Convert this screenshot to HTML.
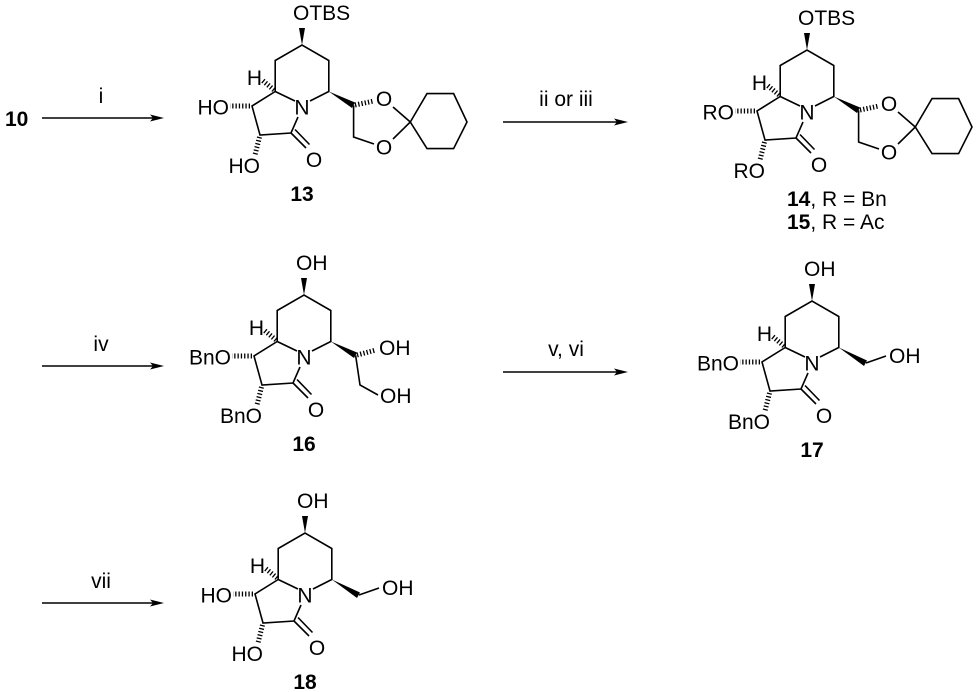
<!DOCTYPE html>
<html><head><meta charset="utf-8"><style>
html,body{margin:0;padding:0;background:#fff;}
svg{display:block;font-family:"Liberation Sans",Arial,sans-serif;}
</style></head><body>
<svg width="978" height="692" viewBox="0 0 978 692" xmlns="http://www.w3.org/2000/svg">
<defs>
<g id="core" stroke="#000" stroke-width="1.6" fill="none">
  <line x1="-7" y1="-6" x2="-26.8" y2="-15.5"/>
  <polyline points="-26.8,-15.5 -26.8,-46.5 0,-62 26.8,-46.5 26.8,-15.5 8,-6"/>
  <polyline points="-26.8,-15.5 -50,-1 -42,28 -11,26 -4,10"/>
  <line x1="-11" y1="26" x2="4" y2="41"/>
  <line x1="-7" y1="22.5" x2="7.5" y2="37.5"/>
  <polygon points="0,-62 -3,-79 3,-79" fill="#000" stroke="none"/>
  <line x1="-28" y1="-17" x2="-40" y2="-27" stroke-width="5" stroke-dasharray="1.3 2"/>
  <line x1="-52" y1="-1" x2="-72" y2="-1" stroke-width="5" stroke-dasharray="1.3 2"/>
  <line x1="-42.5" y1="30" x2="-47" y2="48" stroke-width="5" stroke-dasharray="1.3 2"/>
</g>
<g id="coreText" font-size="21" fill="#000">
  <text x="0" y="7.5" text-anchor="middle">N</text>
  <text x="12" y="60" text-anchor="middle">O</text>
  <text x="-40" y="-22" text-anchor="end">H</text>
</g>
<g id="dioxolane" stroke="#000" stroke-width="1.6" fill="none">
  <polygon points="26.8,-15.5 50,1 53,-4.5" fill="#000" stroke="none"/>
  <line x1="53" y1="-2" x2="72" y2="-6" stroke-width="5" stroke-dasharray="1.3 2"/>
  <polyline points="51.6,-1.7 51.6,30 72,37"/>
  <line x1="91" y1="0" x2="108.3" y2="15"/>
  <line x1="91" y1="32" x2="108.3" y2="15"/>
  <polygon points="108.3,15 125,-13.4 151.6,-13.4 165,15 151.6,41.6 125,41.6"/>
</g>
<g id="dioxText" font-size="21" fill="#000">
  <text x="82" y="-1" text-anchor="middle">O</text>
  <text x="82" y="47.5" text-anchor="middle">O</text>
  <text x="-9" y="-87">OTBS</text>
</g>
<g id="ch2oh" stroke="#000" stroke-width="1.6" fill="none">
  <polygon points="26.8,-15.5 52,3 55,-2.5" fill="#000" stroke="none"/>
  <line x1="54" y1="0" x2="74" y2="-7"/>
</g>
</defs>

<text x="5" y="126" font-size="21" font-weight="bold">10</text>
<line x1="42" y1="118" x2="155" y2="118" stroke="#000" stroke-width="1.4"/>
<polygon points="164,118 150,114.5 153,118 150,121.5" fill="#000"/>
<text x="101" y="103" font-size="21" text-anchor="middle">i</text>

<g transform="translate(302,107)">
  <use href="#core"/><use href="#coreText"/><use href="#dioxolane"/><use href="#dioxText"/>
  <g font-size="21"><text x="-73" y="7.5" text-anchor="end">HO</text>
  <text x="-42" y="66" text-anchor="end">HO</text>
  <text x="0" y="94" text-anchor="middle" font-weight="bold">13</text></g>
</g>

<line x1="503" y1="122" x2="619" y2="122" stroke="#000" stroke-width="1.4"/>
<polygon points="628,122 614,118.5 617,122 614,125.5" fill="#000"/>
<text x="566" y="106" font-size="21" text-anchor="middle">ii or iii</text>

<g transform="translate(807,112)">
  <use href="#core"/><use href="#coreText"/><use href="#dioxolane"/><use href="#dioxText"/>
  <g font-size="21"><text x="-73" y="7.5" text-anchor="end">RO</text>
  <text x="-42" y="66" text-anchor="end">RO</text>
  <text x="-20" y="94"><tspan font-weight="bold">14</tspan>, R = Bn</text>
  <text x="-20" y="117"><tspan font-weight="bold">15</tspan>, R = Ac</text></g>
</g>

<line x1="42" y1="366" x2="155" y2="366" stroke="#000" stroke-width="1.4"/>
<polygon points="164,366 150,362.5 153,366 150,369.5" fill="#000"/>
<text x="101" y="351" font-size="21" text-anchor="middle">iv</text>

<g transform="translate(304,357)">
  <use href="#core"/><use href="#coreText"/>
  <g stroke="#000" stroke-width="1.6" fill="none">
    <polygon points="26.8,-15.5 50,1 53,-4.5" fill="#000" stroke="none"/>
    <line x1="53" y1="-2" x2="72" y2="-7" stroke-width="5" stroke-dasharray="1.3 2"/>
    <polyline points="51.6,-1.7 56,28 74,38"/>
  </g>
  <g font-size="21"><text x="-8" y="-87">OH</text>
  <text x="75" y="-2">OH</text>
  <text x="76" y="46">OH</text>
  <text x="-73" y="7.5" text-anchor="end">BnO</text>
  <text x="-42" y="66" text-anchor="end">BnO</text>
  <text x="0" y="94" text-anchor="middle" font-weight="bold">16</text></g>
</g>

<line x1="503" y1="372" x2="619" y2="372" stroke="#000" stroke-width="1.4"/>
<polygon points="628,372 614,368.5 617,372 614,375.5" fill="#000"/>
<text x="566" y="356" font-size="21" text-anchor="middle">v, vi</text>

<g transform="translate(812,363)">
  <use href="#core"/><use href="#coreText"/><use href="#ch2oh"/>
  <g font-size="21"><text x="-8" y="-87">OH</text>
  <text x="77" y="0">OH</text>
  <text x="-73" y="7.5" text-anchor="end">BnO</text>
  <text x="-42" y="66" text-anchor="end">BnO</text>
  <text x="0" y="94" text-anchor="middle" font-weight="bold">17</text></g>
</g>

<line x1="42" y1="603" x2="155" y2="603" stroke="#000" stroke-width="1.4"/>
<polygon points="164,603 150,599.5 153,603 150,606.5" fill="#000"/>
<text x="101" y="588" font-size="21" text-anchor="middle">vii</text>

<g transform="translate(305,595)">
  <use href="#core"/><use href="#coreText"/><use href="#ch2oh"/>
  <g font-size="21"><text x="-8" y="-87">OH</text>
  <text x="77" y="0">OH</text>
  <text x="-73" y="7.5" text-anchor="end">HO</text>
  <text x="-42" y="66" text-anchor="end">HO</text>
  <text x="0" y="94" text-anchor="middle" font-weight="bold">18</text></g>
</g>
</svg>
</body></html>
